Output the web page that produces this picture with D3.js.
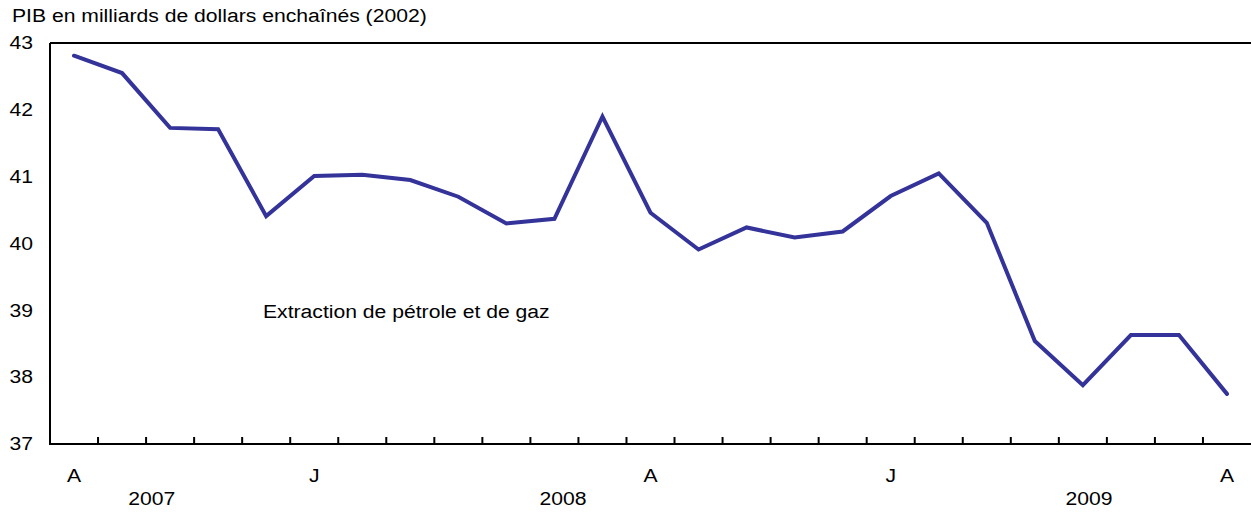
<!DOCTYPE html>
<html>
<head>
<meta charset="utf-8">
<script src="https://cdn.jsdelivr.net/npm/d3@7"></script>
<style>
  body { margin: 0; background: #fff; }
  svg text { font-family: "Liberation Sans", Arial, sans-serif; fill: #000; font-size: 18px; }
</style>
</head>
<body>
<div id="chart"></div>
<script>
// months from April 2007 to April 2009
const months = ['2007-04','2007-05','2007-06','2007-07','2007-08','2007-09','2007-10','2007-11','2007-12',
  '2008-01','2008-02','2008-03','2008-04','2008-05','2008-06','2008-07','2008-08','2008-09','2008-10','2008-11','2008-12',
  '2009-01','2009-02','2009-03','2009-04'];
const gdpValues = [42.81, 42.55, 41.73, 41.71, 40.41, 41.01, 41.03, 40.95, 40.70, 40.30, 40.37, 41.90,
  40.46, 39.91, 40.24, 40.09, 40.18, 40.71, 41.05, 40.31, 38.54, 37.88, 38.63, 38.63, 37.75];
const monthLabels = [
  { month: '2007-04', label: 'A' },
  { month: '2007-09', label: 'J' },
  { month: '2008-04', label: 'A' },
  { month: '2008-09', label: 'J' },
  { month: '2009-04', label: 'A' }
];
// year labels sit at a fractional month index
const yearLabels = [
  { pos: 1.62, label: '2007' },
  { pos: 10.18, label: '2008' },
  { pos: 21.13, label: '2009' }
];
const yTicks = [37, 38, 39, 40, 41, 42, 43];
const yTitle = 'PIB en milliards de dollars enchaînés (2002)';
const seriesName = 'Extraction de pétrole et de gaz';

const W = 1251, H = 514;
const plot = { left: 50, right: 1251, top: 43, bottom: 444 };
const stretch = 1.175; // the original type is a little wide

const svg = d3.select('#chart').append('svg')
  .attr('width', W)
  .attr('height', H);

const x = d3.scaleBand()
  .domain(months)
  .range([plot.left, plot.right]);

const y = d3.scaleLinear()
  .domain([37, 43])
  .range([plot.bottom, plot.top]);

const cx = m => x(m) + x.bandwidth() / 2;

// text placed with a horizontal stretch
function placeText(sel, fx, fy) {
  return sel.attr('transform', (d, i) => `translate(${fx(d, i)},${fy(d, i)}) scale(${stretch},1)`);
}

// y title
placeText(svg.append('text').datum(yTitle), () => 12, () => 22)
  .text(d => d);

// y tick labels
placeText(svg.selectAll('.ylab')
  .data(yTicks)
  .enter()
  .append('text')
  .attr('class', 'ylab'), () => 33, d => y(d))
  .attr('dy', '0.35em')
  .attr('text-anchor', 'end')
  .text(d => d);

// top border line
svg.append('line')
  .attr('x1', plot.left).attr('x2', plot.right)
  .attr('y1', plot.top).attr('y2', plot.top)
  .attr('stroke', '#000').attr('stroke-width', 2);

// left axis line
svg.append('line')
  .attr('x1', plot.left).attr('x2', plot.left)
  .attr('y1', plot.top).attr('y2', plot.bottom)
  .attr('stroke', '#000').attr('stroke-width', 2);

// month ticks between bands, pointing up
svg.selectAll('.tick')
  .data(months.slice(1))
  .enter()
  .append('line')
  .attr('class', 'tick')
  .attr('x1', d => x(d)).attr('x2', d => x(d))
  .attr('y1', plot.bottom).attr('y2', plot.bottom - 7)
  .attr('stroke', '#000').attr('stroke-width', 2);

// bottom axis line
svg.append('line')
  .attr('x1', plot.left - 1).attr('x2', plot.right)
  .attr('y1', plot.bottom).attr('y2', plot.bottom)
  .attr('stroke', '#000').attr('stroke-width', 2);

// month labels
placeText(svg.selectAll('.mlab')
  .data(monthLabels)
  .enter()
  .append('text')
  .attr('class', 'mlab'), d => cx(d.month), () => 482)
  .attr('text-anchor', 'middle')
  .text(d => d.label);

// year labels
placeText(svg.selectAll('.yearlab')
  .data(yearLabels)
  .enter()
  .append('text')
  .attr('class', 'yearlab'), d => x(months[0]) + x.bandwidth() * (d.pos + 0.5), () => 505)
  .attr('text-anchor', 'middle')
  .text(d => d.label);

// series line
const line = d3.line()
  .x((d, i) => cx(months[i]))
  .y(d => y(d));

svg.append('path')
  .datum(gdpValues)
  .attr('d', line)
  .attr('fill', 'none')
  .attr('stroke', '#333399')
  .attr('stroke-width', 4)
  .attr('stroke-linejoin', 'miter')
  .attr('stroke-linecap', 'round');

// series label
placeText(svg.append('text').datum(seriesName), () => 263, () => 318)
  .text(d => d);
</script>
</body>
</html>
